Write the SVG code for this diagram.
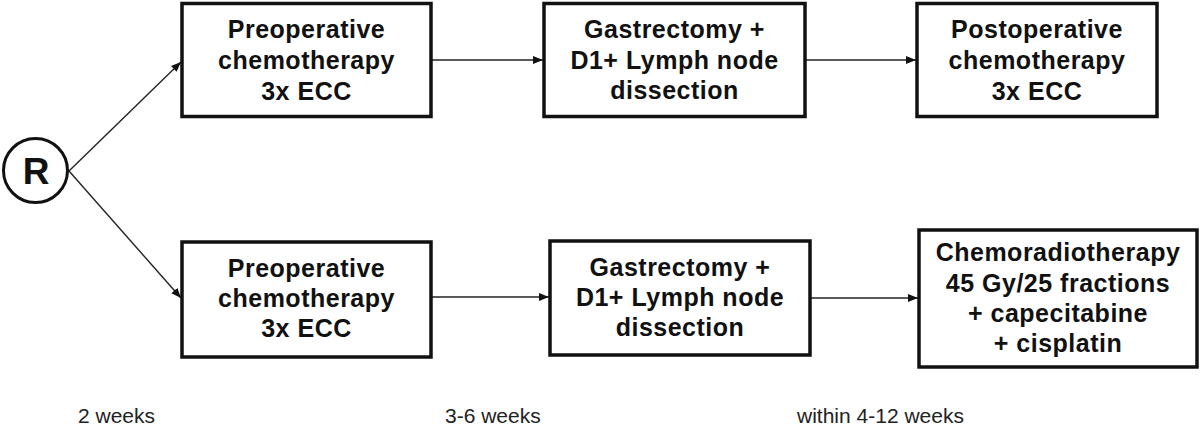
<svg xmlns="http://www.w3.org/2000/svg" width="1200" height="437" viewBox="0 0 1200 437">
<style>
.box{fill:#fff;stroke:#111;stroke-width:3.5}
.t{font-family:"Liberation Sans",Arial,sans-serif;font-weight:bold;font-size:25px;letter-spacing:0.5px;fill:#111;text-anchor:middle}
.lab{font-family:"Liberation Sans",Arial,sans-serif;font-size:21px;fill:#222}
.c{stroke:#222;stroke-width:1.4;fill:none;marker-end:url(#ah)}
</style>
<defs>
<marker id="ah" viewBox="0 0 10 10" refX="10" refY="5" markerWidth="10" markerHeight="10" markerUnits="userSpaceOnUse" orient="auto">
<path d="M0,1 L10,5 L0,9 Z" fill="#111"/>
</marker>
</defs>
<rect width="1200" height="437" fill="#fff"/>
<g id="connectors">
<line class="c" x1="69" y1="171" x2="181" y2="62"/>
<line class="c" x1="69" y1="171" x2="181" y2="298"/>
<line class="c" x1="432" y1="60" x2="543" y2="60"/>
<line class="c" x1="805" y1="60" x2="916" y2="60"/>
<line class="c" x1="432" y1="297" x2="549" y2="297"/>
<line class="c" x1="810" y1="298" x2="918" y2="298"/>
</g>
<g id="R">
<circle cx="35.5" cy="170.5" r="32" fill="#fff" stroke="#111" stroke-width="3"/>
<text x="36" y="184" font-family="Liberation Sans,Arial,sans-serif" font-weight="bold" font-size="37" fill="#111" text-anchor="middle">R</text>
</g>
<g id="pre1">
<rect class="box" x="182" y="3.5" width="249" height="113"/>
<text class="t" x="306.5" y="38">Preoperative</text>
<text class="t" x="306.5" y="69">chemotherapy</text>
<text class="t" x="306.5" y="100">3x ECC</text>
</g>
<g id="gast1">
<rect class="box" x="544" y="3.5" width="261" height="113"/>
<text class="t" x="674.5" y="38">Gastrectomy +</text>
<text class="t" x="674.5" y="68.5">D1+ Lymph node</text>
<text class="t" x="674.5" y="99">dissection</text>
</g>
<g id="post1">
<rect class="box" x="917" y="3.5" width="240" height="113"/>
<text class="t" x="1037" y="38">Postoperative</text>
<text class="t" x="1037" y="69">chemotherapy</text>
<text class="t" x="1037" y="100">3x ECC</text>
</g>
<g id="pre2">
<rect class="box" x="182" y="242" width="249" height="115"/>
<text class="t" x="306.5" y="277">Preoperative</text>
<text class="t" x="306.5" y="307">chemotherapy</text>
<text class="t" x="306.5" y="337">3x ECC</text>
</g>
<g id="gast2">
<rect class="box" x="550" y="241" width="260" height="114"/>
<text class="t" x="680" y="276">Gastrectomy +</text>
<text class="t" x="680" y="306">D1+ Lymph node</text>
<text class="t" x="680" y="336">dissection</text>
</g>
<g id="crt2">
<rect class="box" x="919" y="230" width="278" height="137"/>
<text class="t" x="1058" y="261">Chemoradiotherapy</text>
<text class="t" x="1058" y="291.5">45 Gy/25 fractions</text>
<text class="t" x="1058" y="322">+ capecitabine</text>
<text class="t" x="1058" y="352">+ cisplatin</text>
</g>
<g id="labels">
<text class="lab" x="78" y="423">2 weeks</text>
<text class="lab" x="445" y="423">3-6 weeks</text>
<text class="lab" x="797" y="423">within 4-12 weeks</text>
</g>
</svg>
